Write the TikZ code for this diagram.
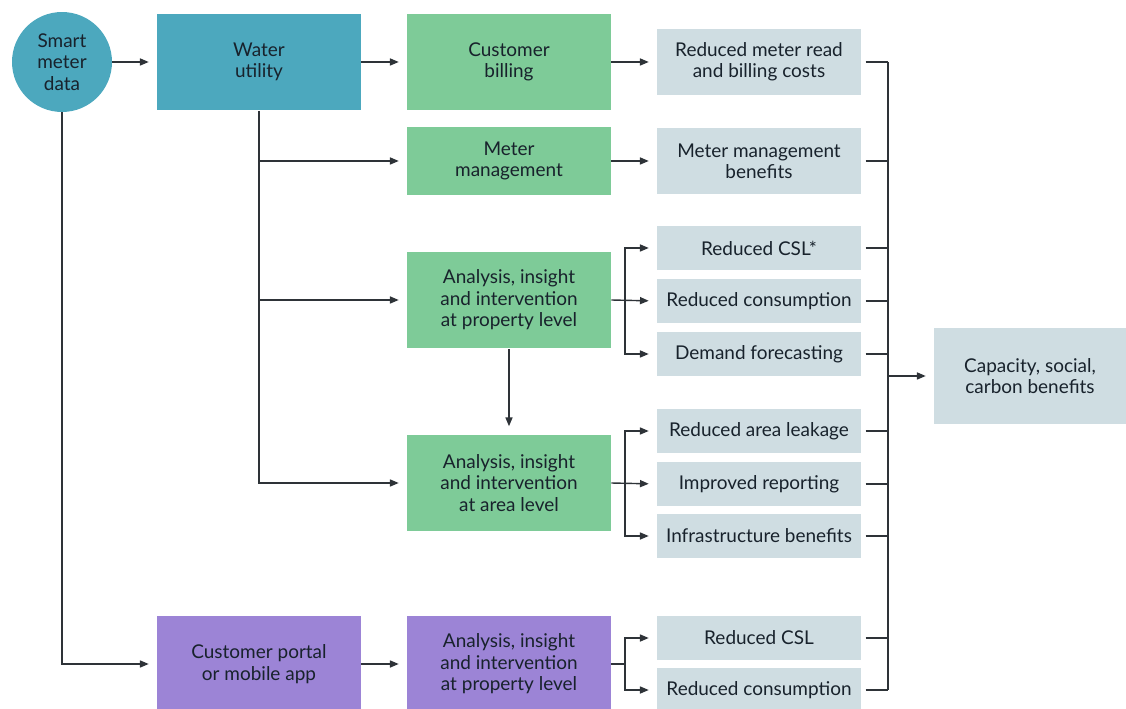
\documentclass[tikz,border=0pt]{standalone}
\usepackage{fontspec}
\setmainfont{Lato}
\usetikzlibrary{arrows.meta,positioning,calc}
\definecolor{Ink}{HTML}{18222C}
\definecolor{Wire}{HTML}{2E3338}
\definecolor{tealfill}{HTML}{4CA8BE}
\definecolor{greenfill}{HTML}{7ECB98}
\definecolor{mistfill}{HTML}{CFDDE2}
\definecolor{violetfill}{HTML}{9C84D6}
\tikzset{
  blk/.style={rectangle,draw=none,text=Ink,align=center,inner sep=2pt,
    minimum width=4.08cm,font=\fontsize{10.8}{12.2}\selectfont},
  tall/.style={blk,minimum height=1.94cm},
  util/.style={tall,fill=tealfill},
  act/.style={tall,fill=greenfill},
  actlow/.style={blk,fill=greenfill,minimum height=1.36cm},
  app/.style={tall,fill=violetfill},
  gain/.style={blk,fill=mistfill,minimum height=1.34cm},
  gainsm/.style={blk,fill=mistfill,minimum height=0.88cm},
  src/.style={circle,fill=tealfill,text=Ink,align=center,inner sep=0pt,
    minimum size=2cm,font=\fontsize{10.8}{12.2}\selectfont},
  flow/.style={draw=Wire,line width=0.8pt,-{Triangle[length=5pt,width=4pt]},shorten >=4.5pt},
  tie/.style={draw=Wire,line width=0.8pt,shorten <=2.5pt},
}
\begin{document}
\begin{tikzpicture}[x=0.02cm,y=-0.02cm]
\path[use as bounding box] (0,0) rectangle (1126,709);
\clip (0,0) rectangle (1126,709);

% sources
\node[src] (smd) at (62,62) {Smart\\meter\\data};
\node[util] (wu) at (259,62) {Water\\utility};
\node[app] (cp) at (259,664) {Customer portal\\or mobile app};

% activities
\node[act] (cb) at (509,62) {Customer\\billing};
\node[actlow] (mm) at (509,161) {Meter\\management};
\node[act] (ap) at (509,300) {Analysis, insight\\and intervention\\at property level};
\node[act] (aa) at (509,483) {Analysis, insight\\and intervention\\at area level};
\node[app] (pp) at (509,664) {Analysis, insight\\and intervention\\at property level};

% benefits
\node[gain] (rmr) at (759,62) {Reduced meter read\\and billing costs};
\node[gain] (mmb) at (759,161) {Meter management\\benefits};
\node[gainsm] (csl) at (759,248) {Reduced CSL*};
\node[gainsm] (rc) at (759,301) {Reduced consumption};
\node[gainsm] (df) at (759,354) {Demand forecasting};
\node[gainsm] (ral) at (759,431) {Reduced area leakage};
\node[gainsm] (ir) at (759,484) {Improved reporting};
\node[gainsm] (ib) at (759,536) {Infrastructure benefits};
\node[gainsm] (pcsl) at (759,638) {Reduced CSL};
\node[gainsm] (prc) at (759,690) {Reduced consumption};
\node[blk,fill=mistfill,minimum width=3.84cm,minimum height=1.94cm] (cap) at (1030,376) {Capacity, social,\\carbon benefits};

% main flow
\draw[flow] (smd) -- (wu);
\draw[flow] (wu) -- (cb);
\draw[flow] (cb) -- (rmr);
\draw[flow] (mm) -- (mmb);
\draw[flow] (smd.south) |- (cp.west);
\draw[flow] (cp) -- (pp);
\draw[flow] (ap.south) -- (aa.north);

% utility branches
\draw[flow] (wu.south) |- (aa.west);
\draw[flow] (wu.south |- mm.west) -- (mm.west);
\draw[flow] (wu.south |- ap.west) -- (ap.west);

% splits to benefits
\coordinate (apsplit) at (625,300);
\coordinate (aasplit) at (625,483);
\coordinate (ppsplit) at (625,664);
\draw[flow] (ap.east) -- (rc.west);
\draw[flow] (apsplit) |- (csl.west);
\draw[flow] (apsplit) |- (df.west);
\draw[flow] (aa.east) -- (ir.west);
\draw[flow] (aasplit) |- (ral.west);
\draw[flow] (aasplit) |- (ib.west);
\draw[tie,shorten <=0pt] (pp.east) -- (ppsplit);
\draw[flow] (ppsplit) |- (pcsl.west);
\draw[flow] (ppsplit) |- (prc.west);

% collector
\coordinate (top) at (888,62);
\coordinate (bot) at (888,690);
\draw[draw=Wire,line width=0.8pt] (top) -- (bot);
\foreach \g in {rmr,mmb,csl,rc,df,ral,ir,ib,pcsl,prc}
  \draw[tie] (\g.east) -- (\g.east -| top);
\draw[flow] (top |- cap.west) -- (cap.west);
\end{tikzpicture}
\end{document}
